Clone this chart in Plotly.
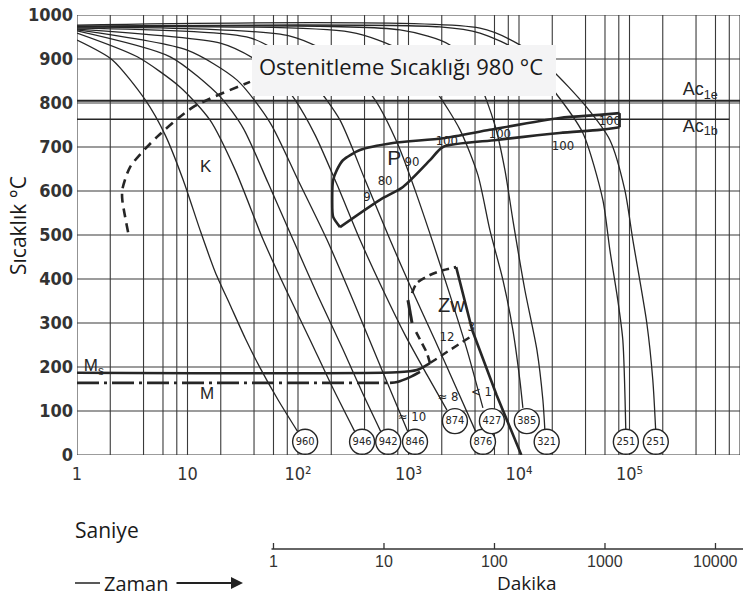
import math
import plotly.graph_objects as go

# ---------------- data ----------------
y_tick_vals = [0, 100, 200, 300, 400, 500, 600, 700, 800, 900, 1000]
x_tick_vals = [1, 10, 100, 1000, 10000, 100000, 1000000]
x_tick_text = ["1", "10", "10²", "10³", "10⁴", "10⁵", "10⁶"]
min_tick_vals = [1, 10, 100, 1000, 10000]
min_tick_text = ["1", "10", "100", "1000", "10000"]
grid_mult = [1, 2, 4, 6, 8]

Ac1e = 805
Ac1b = 763

Ms_t = [1, 790, 1190, 1565]
Ms_T = [187, 188, 193, 209]
M_dash_t = [1, 680]
M_dash_T = [164, 164]
M_join_t = [680, 790, 1032, 1271]
M_join_T = [164, 166, 177, 189]

# cooling curves (time s, temperature C)
t_960 = [1, 2.09, 4.15, 6.29, 9.14, 13.0, 17.8, 24.3, 33.2, 45.4, 66.1, 100]
T_960 = [943, 898, 807, 727, 625, 511, 416, 341, 266, 198, 125, 52]
t_946 = [1, 3.51, 8.59, 16.0, 27.0, 48.4, 76.4, 129, 204, 328]
T_946 = [959, 905, 836, 761, 648, 489, 380, 261, 155, 52]
t_942 = [1, 6.98, 19.8, 31.9, 53.7, 90.3, 152, 256, 380, 564]
T_942 = [964, 905, 814, 743, 618, 489, 361, 239, 143, 52]
t_846 = [1, 9.94, 28.1, 56.0, 100, 183, 328, 575, 989]
T_846 = [966, 920, 852, 755, 625, 489, 341, 193, 52]
t_874 = [1, 19.8, 39.3, 62.1, 94.2, 143, 226, 364, 588, 930, 1471, 2229]
T_874 = [968, 936, 902, 864, 807, 727, 614, 489, 375, 273, 182, 102]
t_876 = [1, 36.9, 84.8, 143, 240, 405, 681, 1076, 1737, 2634, 4077]
T_876 = [970, 948, 898, 841, 761, 625, 489, 375, 261, 159, 52]
t_427 = [1, 84.8, 240, 498, 804, 1146, 1632, 2371, 3384, 4714]
T_427 = [973, 952, 898, 807, 705, 602, 489, 364, 239, 107]
t_385 = [1, 296, 838, 1737, 2925, 4250, 5454, 7148, 8805, 10180, 10840]
T_385 = [973, 961, 920, 830, 739, 636, 511, 398, 284, 170, 107]
t_321 = [1, 838, 2371, 4250, 6051, 7452, 8805, 11300, 14520, 16450, 17140]
T_321 = [973, 966, 932, 852, 750, 648, 534, 375, 239, 125, 57]
t_251a = [1, 1927, 4431, 10180, 21090, 37840, 57380, 66410, 78370, 87020, 92660]
T_251a = [975, 973, 959, 916, 825, 732, 580, 466, 352, 261, 52]
t_251b = [1, 4431, 10180, 19830, 39470, 66410, 90770, 107200, 143400, 162600, 172900]
T_251b = [977, 970, 932, 875, 795, 716, 602, 489, 300, 170, 52]

# phase region boundaries
K_t = [2.9, 2.57, 2.57, 3.03, 5.3, 11.3, 36.8]
K_T = [506, 580, 603, 655, 723, 791, 848]

P_top_t = [240, 208, 204, 208, 225, 255, 364, 722, 2050, 5440, 23300, 53600, 81300]
P_top_T = [518, 541, 580, 625, 648, 670, 693, 709, 720, 739, 766, 773, 777]
P_end_t = [81300, 81300]
P_end_T = [777, 745]
P_bot_t = [81300, 53600, 23300, 6280, 2050, 1565, 891, 552, 240]
P_bot_T = [745, 739, 732, 716, 700, 670, 609, 580, 518]

Zw_dash_low_t = [1565, 1471, 1146]
Zw_dash_low_T = [209, 232, 284]
Zw_solid_left_t = [1076, 989]
Zw_solid_left_T = [300, 352]
Zw_dash_top_t = [1076, 1190, 1565, 2050, 2700]
Zw_dash_top_T = [368, 391, 409, 420, 427]
Zw_right_t = [2700, 3770, 6280, 10500]
Zw_right_T = [427, 284, 136, 0]
Zw_bottom_t = [1565, 2371, 3600]
Zw_bottom_T = [209, 239, 268]

# hardness circles
hv_t = [116, 380, 655, 1145, 2630, 4720, 5690, 11760, 17800, 92700, 173000]
hv_T = [30, 30, 30, 30, 77, 30, 77, 77, 30, 30, 30]
hv_text = ["960", "946", "942", "846", "874", "876", "427", "385", "321", "251", "251"]

# small numbers
num_t = [421, 614, 1076, 2223, 6714, 25000, 66400, 2230, 3700, 2277, 1075, 4570]
num_T = [584, 620, 664, 711, 727, 700, 757, 266, 289, 130, 84, 141]
num_text = ["9", "80", "90", "100", "100", "100", "100", "12", "3", "≈ 8", "≈ 10", "< 1"]

# ---------------- figure ----------------
W, H = 752, 599
L, R, T, B = 77, 12, 15, 10
PW, PH = W - L - R, H - T - B
def px(x):
    return (x - L) / PW
def py(y):
    return (H - B - y) / PH

INK = "#262626"
TXT = "#1a1a1a"
fig = go.Figure()

def line(xs, ys, width=1.2, dash="solid", color=INK, shape="linear"):
    fig.add_trace(go.Scatter(x=xs, y=ys, mode="lines", hoverinfo="skip",
                             line=dict(color=color, width=width, dash=dash, shape=shape,
                                       smoothing=0.7), showlegend=False))

def note(x, y, text, size, family="Open Sans", xanchor="center", angle=0, color=TXT):
    fig.add_annotation(xref="paper", yref="paper", x=x, y=y, text=text, showarrow=False,
                       xanchor=xanchor, yanchor="middle", textangle=angle,
                       font=dict(family=family, size=size, color=color))

# grid
gx, gy = [], []
for e in range(6):
    for m in grid_mult:
        v = m * 10 ** e
        gx += [v, v, None]
        gy += [0, 1000, None]
gx += [1e6, 1e6, None]
gy += [0, 1000, None]
line(gx, gy, width=1.1, color="#3a3a3a")
hx, hy = [], []
for v in y_tick_vals:
    hx += [1, 1e6, None]
    hy += [v, v, None]
line(hx, hy, width=1.1, color="#3a3a3a")

# Ac lines
line([1, 1e6], [Ac1e, Ac1e], width=2.0)
line([1, 8e5], [Ac1b, Ac1b], width=1.6)

# cooling curves
for tt, TT in [(t_960, T_960), (t_946, T_946), (t_942, T_942), (t_846, T_846),
               (t_874, T_874), (t_876, T_876), (t_427, T_427), (t_385, T_385),
               (t_321, T_321), (t_251a, T_251a), (t_251b, T_251b)]:
    line(tt, TT, width=1.3, shape="spline")

# regions
line(K_t, K_T, width=2.6, dash="9px,6px", shape="spline")
line(P_top_t, P_top_T, width=2.6, shape="spline")
line(P_end_t, P_end_T, width=2.6)
line(P_bot_t, P_bot_T, width=2.6, shape="spline")
line(Ms_t, Ms_T, width=2.6, shape="spline")
line(M_dash_t, M_dash_T, width=2.6, dash="22px,5px,3px,5px")
line(M_join_t, M_join_T, width=2.6, shape="spline")
line(Zw_dash_low_t, Zw_dash_low_T, width=2.6, dash="8px,5px")
line(Zw_solid_left_t, Zw_solid_left_T, width=3)
line(Zw_dash_top_t, Zw_dash_top_T, width=2.6, dash="8px,5px", shape="spline")
line(Zw_right_t, Zw_right_T, width=2.6)
line(Zw_bottom_t, Zw_bottom_T, width=2.4, dash="8px,5px")

# circles
fig.add_trace(go.Scatter(x=hv_t, y=hv_T, mode="markers+text", text=hv_text,
                         textposition="middle center", hoverinfo="skip", showlegend=False,
                         marker=dict(symbol="circle", size=25, color="white",
                                     line=dict(color=INK, width=1.4)),
                         textfont=dict(family="Liberation Sans Narrow, DejaVu Sans Condensed", size=11, color=INK)))

# small numbers
fig.add_trace(go.Scatter(x=num_t, y=num_T, mode="text", text=num_text, hoverinfo="skip",
                         showlegend=False,
                         textfont=dict(family="Liberation Sans Narrow, DejaVu Sans Condensed", size=13, color=INK)))

# region labels
lab_t = [13, 641, 1850, 13, 1.15]
lab_T = [652, 672, 336, 136, 200]
lab_text = ["K", "P", "Zw", "M", "M<sub>s</sub>"]
lab_size = [17, 21, 20, 17, 17]
for tt, TT, tx, sz in zip(lab_t, lab_T, lab_text, lab_size):
    fig.add_trace(go.Scatter(x=[tt], y=[TT], mode="text", text=[tx], hoverinfo="skip",
                             showlegend=False, textposition="middle right",
                             textfont=dict(family="Liberation Sans", size=sz, color=INK)))
fig.add_trace(go.Scatter(x=[303000, 303000], y=[829, 745], mode="text",
                         text=["Ac<sub>1e</sub>", "Ac<sub>1b</sub>"], hoverinfo="skip",
                         showlegend=False, textposition="middle right",
                         textfont=dict(family="Liberation Sans", size=18, color=INK)))

# label box
fig.add_shape(type="rect", xref="paper", yref="paper", x0=px(252), x1=px(556),
              y0=py(96), y1=py(45), fillcolor="#f4f4f5", line=dict(width=0), layer="above")
note(px(257), py(66), "Ostenitleme Sıcaklığı 980 °C", 22, xanchor="left")

tick_font = dict(family="DejaVu Sans Condensed", size=18, color="#333333")
fig.update_layout(
    width=W, height=H, margin=dict(l=L, r=R, t=T, b=B, autoexpand=False),
    paper_bgcolor="white", plot_bgcolor="white",
    xaxis=dict(type="log", range=[0, 6], tickvals=x_tick_vals, ticktext=x_tick_text,
               showgrid=False, zeroline=False, showline=False, ticks="",
               tickfont=tick_font, anchor="y", ticklabelstandoff=6, automargin=False),
    yaxis=dict(range=[0, 1000], domain=[py(455), 1.0], tickvals=y_tick_vals,
               ticktext=["<b>%d</b>" % v for v in y_tick_vals],
               showgrid=False, zeroline=False, showline=False, ticks="",
               tickfont=tick_font, ticklabelstandoff=3, automargin=False),
)

# minutes axis (drawn in paper coordinates from the log-seconds scale)
mpos = [math.log10(60 * m) / 6 for m in min_tick_vals]
yl = py(549)
fig.add_shape(type="line", xref="paper", yref="paper", x0=mpos[0] - 0.003, x1=px(743),
              y0=yl, y1=yl, line=dict(color="#333333", width=1.6))
for xp, tx in zip(mpos, min_tick_text):
    fig.add_shape(type="line", xref="paper", yref="paper", x0=xp, x1=xp,
                  y0=yl, y1=py(543), line=dict(color="#333333", width=1.3))
    note(xp, py(561), tx, 16, family="Liberation Sans", color="#333333")

note(px(18), py(226), "Sıcaklık °C", 21, angle=-90)
note(px(73), py(530), "Saniye", 21, xanchor="left")
note(px(527), py(583), "Dakika", 19)
note(px(102), py(583), "Zaman", 20, xanchor="left")
fig.add_shape(type="line", xref="paper", yref="paper", x0=px(75), x1=px(100),
              y0=py(583), y1=py(583), line=dict(color="#222", width=1.5))
fig.add_annotation(xref="paper", yref="paper", x=px(243), y=py(583),
                   axref="pixel", ayref="pixel", ax=-68, ay=0,
                   showarrow=True, arrowhead=2, arrowsize=1.2,
                   arrowwidth=2, arrowcolor="#222", text="")

fig.write_html("out.html")
